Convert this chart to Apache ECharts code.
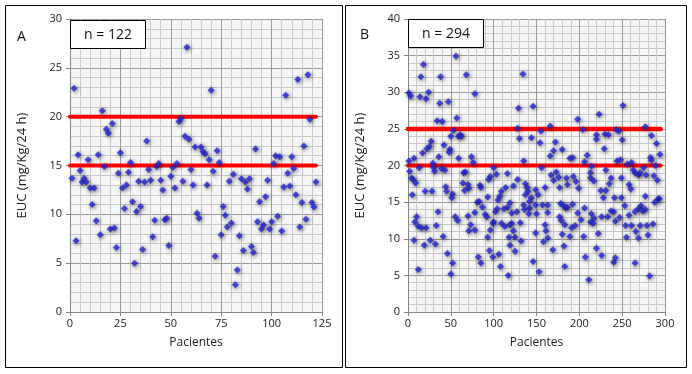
<!DOCTYPE html>
<html>
<head>
<meta charset="utf-8">
<script src="https://cdn.jsdelivr.net/npm/echarts@6/dist/echarts.min.js"></script>
<style>
  html, body { margin: 0; padding: 0; background: #fff; }
  #chart { width: 692px; height: 374px; }
</style>
</head>
<body>
<div id="chart"></div>
<script>
// panel A: EUC per patient, patients 1..122
var eucA = [13.7, 22.9, 7.3, 16.1, 14.5, 13.3, 13.7, 13.3, 15.6, 12.7,
            11.0, 12.7, 9.35, 16.1, 7.9, 20.6, 14.9, 18.7, 18.3, 8.5,
            19.3, 8.6, 6.6, 14.2, 16.3, 12.7, 10.6, 13.0, 14.3, 15.3,
            11.3, 5.0, 10.3, 13.4, 10.8, 6.4, 13.3, 17.5, 14.6, 13.5,
            7.7, 9.4, 14.9, 15.2, 13.5, 12.5, 9.45, 9.6, 6.8, 13.9,
            14.8, 12.7, 15.2, 19.5, 19.8, 13.4, 18.0, 27.1, 17.7, 14.6,
            13.0, 16.9, 10.1, 9.6, 16.9, 16.4, 16.2, 13.0, 15.6, 22.7,
            14.4, 5.7, 16.5, 15.3, 7.9, 10.8, 9.9, 8.7, 13.4, 9.1,
            14.1, 2.8, 4.3, 7.8, 13.65, 6.3, 13.3, 12.6, 13.65, 6.7,
            6.1, 16.7, 9.25, 11.3, 8.5, 8.9, 11.8, 13.5, 8.5, 9.25,
            15.2, 16.0, 9.8, 15.9, 8.3, 12.8, 22.2, 14.2, 12.9, 15.9,
            14.7, 12.0, 23.8, 8.7, 11.2, 17.0, 9.5, 24.3, 19.7, 11.2,
            10.75, 13.3];

// panel B: [patient, EUC], n = 294
var eucB = [
  [1,29.9],[3,29.5],[18,33.8],[15,32.1],[38,32.1],[56,34.9],[14,29.4],[21,29.1],[24,30.0],[37,28.5],
  [47,28.7],[57,26.5],[34,26.1],[40,26.0],[53,24.8],[50,24.0],[59,24.0],[27,23.3],[25,22.6],[22,22.3],
  [17,21.7],[42,22.8],[49,22.2],[7,21.0],[1,20.6],[13,19.7],[29,20.3],[36,21.2],[2,19.2],[4,18.3],
  [6,18.1],[9,17.6],[30,19.7],[31,19.2],[39,19.6],[43,19.4],[48,21.8],[44,17.1],[45,16.5],[52,16.1],
  [5,16.0],[20,16.5],[28,16.5],[51,15.6],[55,13.0],[58,12.5],[35,13.7],[10,13.0],[8,12.3],[12,11.7],
  [16,11.5],[21,11.5],[33,11.8],[41,10.3],[7,9.8],[26,9.8],[19,9.1],[32,9.3],[46,8.0],[52,6.7],
  [50,5.2],[12,5.8],
  [68,32.4],[78,29.8],[61,24.2],[62,24.0],[59,21.0],[74,21.2],[76,20.4],[65,19.0],[67,19.1],[100,19.7],
  [96,18.5],[94,18.1],[103,18.8],[116,18.9],[64,17.6],[70,17.4],[71,16.9],[66,16.6],[84,17.3],[85,17.0],
  [114,17.0],[109,16.5],[107,15.8],[105,15.3],[93,15.7],[119,14.9],[116,14.3],[81,15.0],[83,15.1],[78,13.6],
  [87,14.3],[90,13.3],[92,13.0],[102,13.7],[104,14.1],[112,14.1],[70,13.1],[73,11.9],[71,11.1],[78,11.2],
  [96,11.2],[100,12.3],[99,12.1],[109,12.1],[113,11.7],[119,11.9],[93,10.2],[119,9.1],[95,8.4],[106,7.9],
  [99,7.5],[82,7.5],[85,6.7],[108,6.2],[117,5.0],
  [134,32.5],[129,27.8],[146,28.1],[128,25.1],[166,25.4],[130,23.7],[144,23.8],[155,24.7],[154,23.1],[172,23.2],
  [170,22.0],[180,22.2],[166,21.3],[135,20.6],[156,19.7],[167,18.7],[173,19.1],[176,18.4],[170,18.0],[177,17.0],
  [128,18.1],[123,17.2],[137,17.5],[139,17.0],[140,16.5],[137,16.0],[149,16.7],[152,16.0],[160,17.0],[144,15.6],
  [142,15.1],[121,13.5],[127,13.7],[135,14.6],[142,14.2],[136,14.0],[141,13.4],[149,14.6],[157,14.6],[163,14.6],
  [163,13.6],[178,14.8],[184,14.2],[150,13.4],[177,13.0],[131,12.2],[121,12.1],[123,11.1],[125,10.2],[132,9.7],
  [118,10.2],[125,8.3],[149,10.8],[160,11.9],[161,11.1],[163,10.1],[158,9.6],[169,8.5],[180,10.6],[182,9.0],
  [146,6.9],[153,5.5],
  [223,27.0],[198,26.3],[204,24.9],[220,24.2],[220,23.6],[230,24.3],[234,24.2],[243,24.9],[229,22.3],[189,21.0],
  [192,21.1],[209,21.4],[206,20.5],[244,20.6],[214,19.9],[231,19.4],[237,18.3],[235,17.5],[185,18.3],[193,18.5],
  [186,17.4],[196,17.8],[199,16.9],[213,18.3],[217,17.9],[213,19.0],[225,16.6],[228,15.6],[231,16.6],[241,15.6],
  [181,14.6],[186,14.3],[192,14.7],[198,13.5],[206,14.2],[214,13.4],[217,12.8],[226,13.0],[233,13.0],[237,13.8],
  [240,13.7],[242,12.4],[179,12.5],[183,11.9],[191,11.5],[195,11.8],[202,12.6],[213,12.3],[216,12.1],[222,10.7],
  [205,10.3],[189,10.3],[220,8.7],[226,7.7],[240,6.8],[242,7.4],[207,7.5],[183,6.2],[211,4.4],
  [251,28.2],[277,25.3],[246,24.7],[284,24.1],[250,23.5],[290,23.0],[294,21.5],[283,21.1],[284,20.7],[248,20.8],
  [256,20.2],[261,20.4],[275,19.7],[289,20.0],[263,19.4],[265,19.0],[269,18.7],[271,19.0],[278,18.7],[287,18.6],
  [291,18.0],[249,18.3],[258,17.4],[260,16.8],[277,15.8],[292,15.4],[293,15.5],[288,15.0],[249,15.6],[253,14.5],
  [272,14.5],[269,14.1],[247,12.9],[258,13.2],[265,13.7],[274,13.8],[277,14.0],[286,12.0],[254,11.8],[261,11.8],
  [271,11.8],[279,11.8],[266,11.0],[269,10.1],[280,10.5],[255,10.2],[265,6.7],[282,4.9]
];

// reference limits
var limitsA = [15, 20];
var limitsB = [20, 25];

var font = 'Open Sans';

function xAx(idx, max, step) {
  return {
    gridIndex: idx, type: 'value', min: 0, max: max, interval: step,
    name: 'Pacientes', nameLocation: 'middle', nameGap: 25,
    nameTextStyle: { fontFamily: font, fontSize: 12, color: '#222' },
    axisLine: { show: true, lineStyle: { color: '#868686' } },
    axisTick: { show: true, length: 4, lineStyle: { color: '#868686' } },
    axisLabel: { fontFamily: font, fontSize: 11, color: '#222', margin: 6 },
    splitLine: { show: true, lineStyle: { color: '#9a9a9a', width: 1 } },
    minorTick: { show: false, splitNumber: 5 },
    minorSplitLine: { show: true, lineStyle: { color: '#c8c8c8', width: 1 } }
  };
}
function yAx(idx, max) {
  return {
    gridIndex: idx, type: 'value', min: 0, max: max, interval: 5,
    name: 'EUC (mg/Kg/24 h)', nameLocation: 'middle', nameGap: 41,
    nameTextStyle: { fontFamily: font, fontSize: 13, color: '#222' },
    axisLine: { show: true, lineStyle: { color: '#868686' } },
    axisTick: { show: true, length: 4, lineStyle: { color: '#868686' } },
    axisLabel: { fontFamily: font, fontSize: 11, color: '#222', margin: 8 },
    splitLine: { show: true, lineStyle: { color: '#9a9a9a', width: 1 } },
    minorTick: { show: false, splitNumber: 5 },
    minorSplitLine: { show: true, lineStyle: { color: '#c8c8c8', width: 1 } }
  };
}

var dotStyle = {
  color: '#2424d0',
  shadowColor: 'rgba(0,0,0,0.75)',
  shadowBlur: 4,
  shadowOffsetX: 1,
  shadowOffsetY: 1
};

function limitLine(idx, y, xEnd, w) {
  return {
    type: 'line', xAxisIndex: idx, yAxisIndex: idx, symbol: 'none', silent: true,
    lineStyle: { color: '#ff0000', width: w, cap: 'round' },
    data: [[0, y], [xEnd, y]], z: 3
  };
}

var chart = echarts.init(document.getElementById('chart'));
chart.setOption({
  backgroundColor: '#ffffff',
  animation: false,
  grid: [
    { left: 70, right: 370, top: 19, bottom: 62, show: true, backgroundColor: '#f6f6f6', borderWidth: 0 },
    { left: 408, right: 27, top: 19, bottom: 62, show: true, backgroundColor: '#f6f6f6', borderWidth: 0 }
  ],
  xAxis: [xAx(0, 125, 25), xAx(1, 300, 50)],
  yAxis: [yAx(0, 30), yAx(1, 40)],
  series: [
    limitLine(0, limitsA[0], 122, 4),
    limitLine(0, limitsA[1], 122, 4),
    limitLine(1, limitsB[0], 295, 4),
    limitLine(1, limitsB[1], 295, 4.5),
    {
      type: 'scatter', xAxisIndex: 0, yAxisIndex: 0, symbol: 'diamond', symbolSize: 7,
      itemStyle: dotStyle, z: 4,
      data: eucA.map(function (v, i) { return [i + 1, v]; })
    },
    {
      type: 'scatter', xAxisIndex: 1, yAxisIndex: 1, symbol: 'diamond', symbolSize: 7,
      itemStyle: dotStyle, z: 4,
      data: eucB
    }
  ],
  graphic: [
    { type: 'rect', shape: { x: 5.5, y: 5.5, width: 337, height: 362 }, style: { fill: 'none', stroke: '#000', lineWidth: 1 }, z: 10 },
    { type: 'rect', shape: { x: 345.5, y: 5.5, width: 341, height: 362 }, style: { fill: 'none', stroke: '#000', lineWidth: 1 }, z: 10 },
    { type: 'rect', shape: { x: 70.5, y: 20.5, width: 75, height: 28 }, style: { fill: '#fff', stroke: '#000', lineWidth: 1 }, z: 10 },
    { type: 'rect', shape: { x: 408.5, y: 19.5, width: 75, height: 28 }, style: { fill: '#fff', stroke: '#000', lineWidth: 1 }, z: 10 },
    { type: 'text', x: 108, y: 35, style: { text: 'n = 122', fontFamily: font, fontSize: 14, fill: '#111', textAlign: 'center', textVerticalAlign: 'middle' }, z: 11 },
    { type: 'text', x: 446, y: 34, style: { text: 'n = 294', fontFamily: font, fontSize: 14, fill: '#111', textAlign: 'center', textVerticalAlign: 'middle' }, z: 11 },
    { type: 'text', x: 17, y: 30, style: { text: 'A', fontFamily: font, fontSize: 14, fill: '#111' }, z: 11 },
    { type: 'text', x: 360, y: 28, style: { text: 'B', fontFamily: font, fontSize: 14, fill: '#111' }, z: 11 }
  ]
});
</script>
</body>
</html>
